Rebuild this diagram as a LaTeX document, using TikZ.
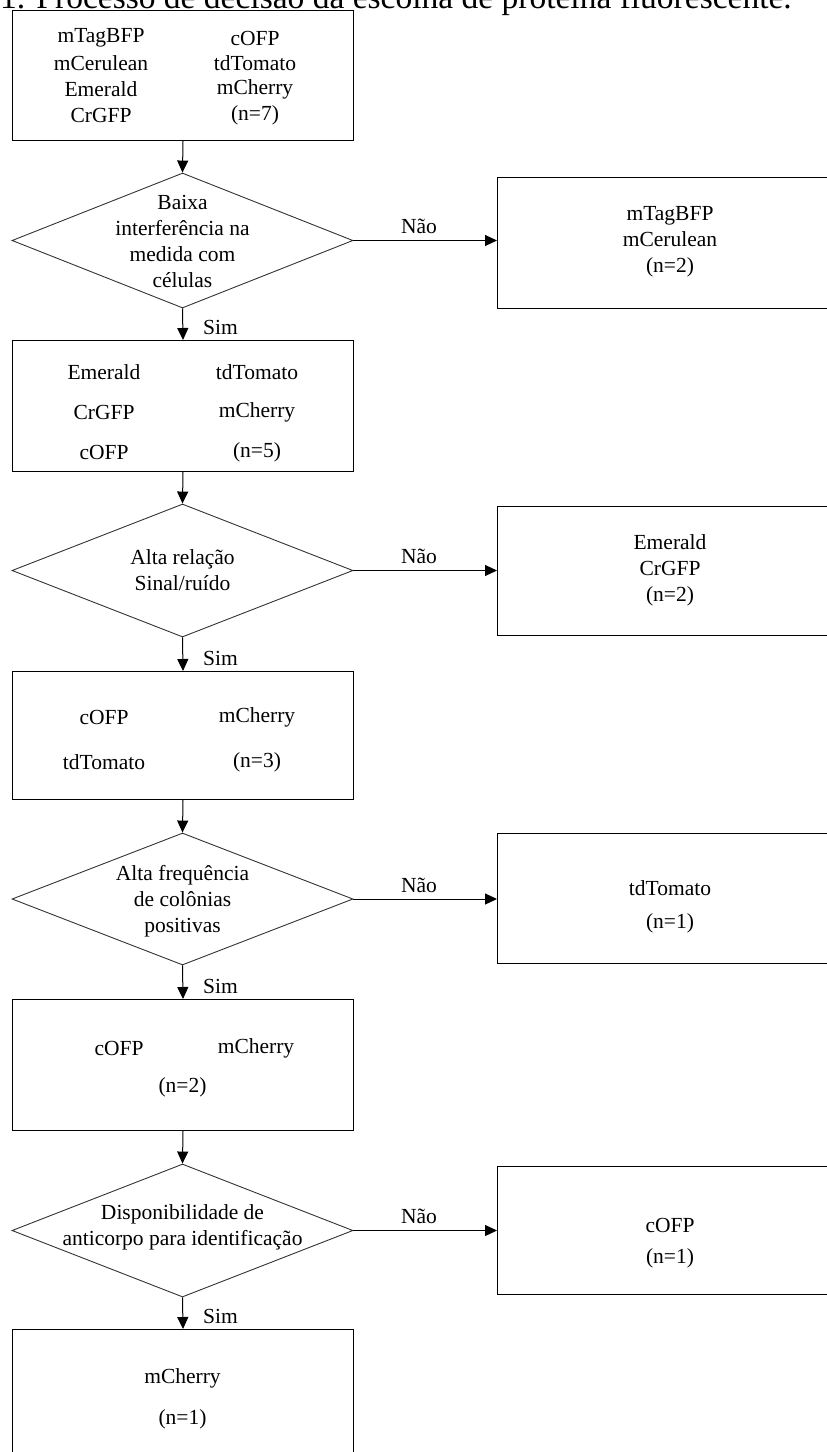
\documentclass[tikz,border=0pt]{standalone}
\usepackage{fontspec}
\setmainfont{Liberation Serif}
\usetikzlibrary{shapes.geometric,arrows.meta}
\begin{document}
\begin{tikzpicture}[x=1pt,y=-1pt,
  box/.style={draw=black,line width=1pt,inner sep=0pt,anchor=north west},
  dia/.style={draw=black!80,line width=0.9pt,diamond,inner sep=0pt,minimum width=341pt},
  txt/.style={font=\fontsize{21.5pt}{26pt}\selectfont,inner sep=0pt,align=center},
  lbl/.style={font=\fontsize{21.5pt}{24pt}\selectfont,inner sep=0pt},
  arr/.style={-{Triangle[length=12pt,width=11pt]},line width=1pt}]
\useasboundingbox (0,0) rectangle (827,1452);
\clip (0,0) rectangle (827,1452);

% caption (cut off at top)
\node[anchor=base west,font=\fontsize{33.5pt}{36pt}\selectfont,inner sep=0pt] (cap) at (0,8) {1. Processo de decisão da escolha de proteína fluorescente.};

% left column boxes
\node[box,minimum width=341pt,minimum height=130pt] (b0) at (12,10) {};
\node[box,minimum width=341pt,minimum height=131pt] (b2) at (12,340) {};
\node[box,minimum width=341pt,minimum height=128pt] (b3) at (12,671) {};
\node[box,minimum width=341pt,minimum height=131pt] (b4) at (12,999) {};
\node[box,minimum width=341pt,minimum height=130pt] (b5) at (12,1329) {};

% diamonds
\node[dia,minimum height=135pt] (d1) at (182.5,240.5) {};
\node[dia,minimum height=133pt] (d2) at (182.5,570.5) {};
\node[dia,minimum height=132pt] (d3) at (182.5,899) {};
\node[dia,minimum height=133pt] (d4) at (182.5,1230.5) {};

% right boxes
\node[box,minimum width=346pt,minimum height=131pt] (r1) at (497,177) {};
\node[box,minimum width=346pt,minimum height=129pt] (r2) at (497,506) {};
\node[box,minimum width=346pt,minimum height=130pt] (r3) at (497,833) {};
\node[box,minimum width=346pt,minimum height=128pt] (r4) at (497,1166) {};

% texts box 0
\node[txt] (t0a) at (101,38) {mTagBFP};
\node[txt] (t0b) at (101,63) {mCerulean};
\node[txt] (t0c) at (101,89) {Emerald};
\node[txt] (t0d) at (101,115) {CrGFP};
\node[txt] (t0e) at (255,38) {cOFP};
\node[txt] (t0f) at (255,63) {tdTomato};
\node[txt] (t0g) at (255,89) {mCherry};
\node[txt] (t0h) at (255,115) {(n=7)};

% texts box 2
\node[txt] (t2a) at (104,372) {Emerald};
\node[txt] (t2b) at (104,412) {CrGFP};
\node[txt] (t2c) at (104,452) {cOFP};
\node[txt] (t2d) at (257,372) {tdTomato};
\node[txt] (t2e) at (257,412) {mCherry};
\node[txt] (t2f) at (257,452) {(n=5)};

% texts box 3
\node[txt] (t3a) at (104,717) {cOFP};
\node[txt] (t3b) at (104,762) {tdTomato};
\node[txt] (t3c) at (257,717) {mCherry};
\node[txt] (t3d) at (257,762) {(n=3)};

% texts box 4
\node[txt] (t4a) at (119,1048) {cOFP};
\node[txt] (t4b) at (256,1048) {mCherry};
\node[txt] (t4c) at (182.5,1087) {(n=2)};

% texts box 5
\node[txt] (t5a) at (182.5,1378) {mCherry};
\node[txt] (t5b) at (182.5,1419) {(n=1)};

% diamond texts
\node[txt] (q1) at (182.5,241) {Baixa\\interferência na\\medida com\\células};
\node[txt] (q2) at (182.5,570.5) {Alta relação\\Sinal/ruído};
\node[txt] (q3) at (182.5,901) {Alta frequência\\de colônias\\positivas};
\node[txt] (q4) at (182.5,1227) {Disponibilidade de\\anticorpo para identificação};

% right box texts
\node[txt] (p1) at (670,242) {mTagBFP\\mCerulean\\(n=2)};
\node[txt] (p2) at (670,570) {Emerald\\CrGFP\\(n=2)};
\node[txt] (p3a) at (670,888) {tdTomato};
\node[txt] (p3b) at (670,923) {(n=1)};
\node[txt] (p4a) at (670,1225) {cOFP};
\node[txt] (p4b) at (670,1258) {(n=1)};

% vertical connectors
\draw[arr] (b0.south) -- (d1.north);
\draw[arr] (d1.south) -- (b2.north);
\draw[arr] (b2.south) -- (d2.north);
\draw[arr] (d2.south) -- (b3.north);
\draw[arr] (b3.south) -- (d3.north);
\draw[arr] (d3.south) -- (b4.north);
\draw[arr] (b4.south) -- (d4.north);
\draw[arr] (d4.south) -- (b5.north);

% horizontal connectors
\draw[arr] (d1.east) -- (d1.east -| r1.west);
\draw[arr] (d2.east) -- (d2.east -| r2.west);
\draw[arr] (d3.east) -- (d3.east -| r3.west);
\draw[arr] (d4.east) -- (d4.east -| r4.west);

% Sim labels
\node[lbl,anchor=west] (s1) at (203,327) {Sim};
\node[lbl,anchor=west] (s2) at (203,658) {Sim};
\node[lbl,anchor=west] (s3) at (203,986) {Sim};
\node[lbl,anchor=west] (s4) at (203,1316) {Sim};

% Nao labels
\node[lbl] (n1) at (419,226) {Não};
\node[lbl] (n2) at (419,556) {Não};
\node[lbl] (n3) at (419,885) {Não};
\node[lbl] (n4) at (419,1216) {Não};
\end{tikzpicture}
\end{document}
